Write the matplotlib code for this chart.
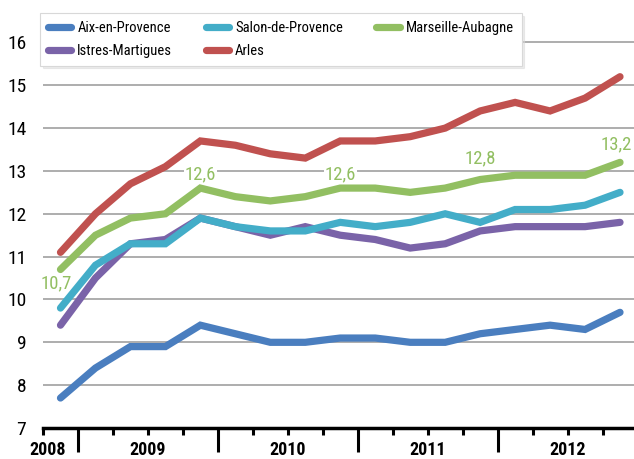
import matplotlib
matplotlib.use("Agg")
import matplotlib.pyplot as plt

plt.rcParams['font.family'] = ['Roboto Condensed', 'Archivo Narrow', 'PT Sans Narrow',
                               'Liberation Sans', 'DejaVu Sans']

# quarterly values, 2008 Q4 -> 2012 Q4
aix = [7.7, 8.4, 8.9, 8.9, 9.4, 9.2, 9.0, 9.0, 9.1, 9.1, 9.0, 9.0, 9.2, 9.3, 9.4, 9.3, 9.7]
istres = [9.4, 10.5, 11.3, 11.4, 11.9, 11.7, 11.5, 11.7, 11.5, 11.4, 11.2, 11.3, 11.6, 11.7, 11.7, 11.7, 11.8]
salon = [9.8, 10.8, 11.3, 11.3, 11.9, 11.7, 11.6, 11.6, 11.8, 11.7, 11.8, 12.0, 11.8, 12.1, 12.1, 12.2, 12.5]
marseille = [10.7, 11.5, 11.9, 12.0, 12.6, 12.4, 12.3, 12.4, 12.6, 12.6, 12.5, 12.6, 12.8, 12.9, 12.9, 12.9, 13.2]
arles = [11.1, 12.0, 12.7, 13.1, 13.7, 13.6, 13.4, 13.3, 13.7, 13.7, 13.8, 14.0, 14.4, 14.6, 14.4, 14.7, 15.2]

years = ['2008', '2009', '2010', '2011', '2012']
labelled = [4, 8, 12, 16]  # Marseille points with a value label

series = [
    ('Aix-en-Provence', aix, '#4a7ebf'),
    ('Istres-Martigues', istres, '#7a63a8'),
    ('Salon-de-Provence', salon, '#43adc8'),
    ('Arles', arles, '#c0514f'),
    ('Marseille-Aubagne', marseille, '#92bf62'),
]

fig = plt.figure(figsize=(6.34, 4.59), dpi=100)
ax = fig.add_axes([43 / 634, 31 / 459, 591 / 634, 407 / 459])

x = list(range(len(aix)))
plot_order = [0, 1, 2, 4, 3]
for i in plot_order:
    name, vals, col = series[i]
    ax.plot(x, vals, color=col, lw=5.2, solid_capstyle='round',
            solid_joinstyle='miter', label=name, zorder=3)

green = series[4][2]
label_off = [(0, 10), (0, 10), (0, 15), (-3, 13)]
for i, off in zip(labelled, label_off):
    ax.annotate(f"{marseille[i]:.1f}".replace('.', ','), (i, marseille[i]),
                xytext=off, textcoords='offset points', ha='center',
                va='center', color=green, fontsize=13.5,
                bbox=dict(boxstyle='square,pad=0.05', fc='white', ec='none'),
                zorder=2)
ax.annotate(f"{marseille[0]:.1f}".replace('.', ','), (0, marseille[0]),
            xytext=(-3, -10), textcoords='offset points', ha='center',
            va='center', color=green, fontsize=13.5, zorder=2)

ax.set_xlim(-0.5, 16.4)
ax.set_ylim(7, 16.5)
ax.set_yticks(range(7, 17))
for v in range(8, 17):
    ax.axhline(v, color='#a0a0a0', lw=1.2, zorder=1)

for s in ['top', 'right', 'left']:
    ax.spines[s].set_visible(False)
ax.spines['bottom'].set_linewidth(2.5)
ax.spines['bottom'].set_zorder(4)

ax.set_xticks([q - 0.5 for q in range(0, 17)], minor=True)
ax.set_xticks([0.5, 4.5, 8.5, 12.5])
ax.set_xticklabels([])
ax.tick_params(axis='x', which='minor', length=5, width=2.2, direction='out')
ax.tick_params(axis='x', which='major', length=17, width=2.2, direction='out')
ax.tick_params(axis='y', length=0, pad=12, labelsize=14)

year_pos = [-0.36, 2.5, 6.5, 10.5, 14.5]
for p, yr in zip(year_pos, years):
    ax.text(p, -0.033, yr, transform=ax.get_xaxis_transform(), ha='center',
            va='top', fontsize=13, fontweight='bold', clip_on=False)

h, l = ax.get_legend_handles_labels()
order = [l.index(n) for n in ['Aix-en-Provence', 'Istres-Martigues', 'Salon-de-Provence',
                               'Arles', 'Marseille-Aubagne']]
leg = ax.legend([h[k] for k in order], [l[k] for k in order], ncol=3,
                loc='upper left', bbox_to_anchor=(-0.005, 1.02), borderaxespad=0,
                fontsize=10.5, frameon=True, fancybox=False,
                shadow={'color': '0.85'}, edgecolor='#d8d8d8',
                handlelength=1.6, handletextpad=0.4, columnspacing=2.3,
                borderpad=0.55, labelspacing=0.6)
leg.get_frame().set_linewidth(0.8)
leg.set_zorder(5)

fig.savefig('out.png', dpi=100)
